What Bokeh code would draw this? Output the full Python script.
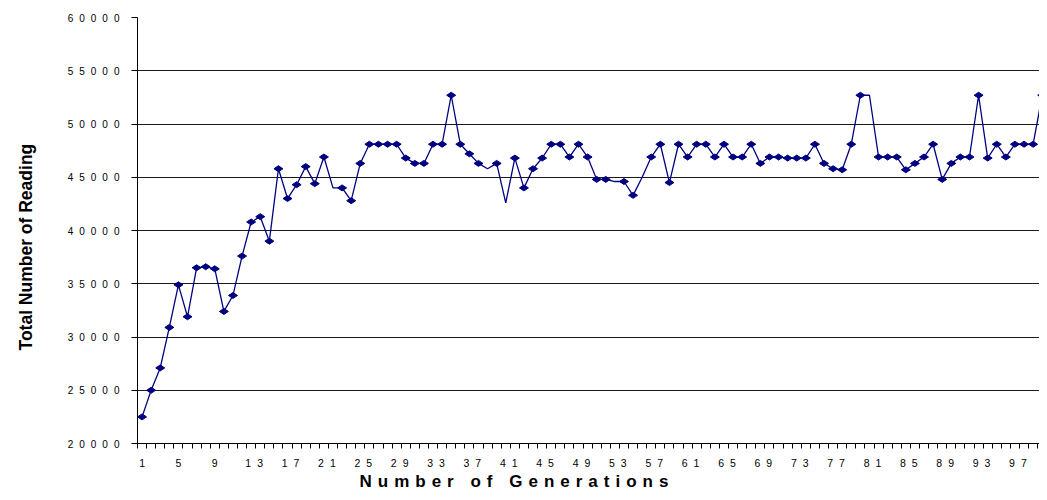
import math
from bokeh.plotting import figure
from bokeh.models import FixedTicker, Range1d, InlineStyleSheet, Title
from bokeh.layouts import row
from bokeh.embed import file_html
from bokeh.resources import INLINE

# ---------------- data ----------------
generations = list(range(1, 101))
readings = [
    22500, 25000, 27100, 30900, 34900, 31900, 36500, 36600, 36400, 32400,
    33900, 37600, 40800, 41300, 39000, 45800, 43000, 44300, 46000, 44400,
    46900, 44000, 44000, 42800, 46300, 48100, 48100, 48100, 48100, 46800,
    46300, 46300, 48100, 48100, 52700, 48100, 47200, 46300, 45800, 46300,
    42600, 46800, 44000, 45800, 46800, 48100, 48100, 46900, 48100, 46900,
    44800, 44800, 44600, 44600, 43300, 45000, 46900, 48100, 44500, 48100,
    46900, 48100, 48100, 46900, 48100, 46900, 46900, 48100, 46300, 46900,
    46900, 46800, 46800, 46800, 48100, 46300, 45800, 45700, 48100, 52700,
    52700, 46900, 46900, 46900, 45700, 46300, 46900, 48100, 44800, 46300,
    46900, 46900, 52700, 46800, 48100, 46900, 48100, 48100, 48100, 52700,
]
no_marker_generations = [22, 39, 41, 53, 56, 81]
x_tick_values = list(range(1, 98, 4))
y_tick_values = list(range(20000, 60001, 5000))
x_title = "Number of Generations"
y_title = "Total Number of Reading"

marker_x = [g for g in generations if g not in no_marker_generations]
marker_y = [v for g, v in zip(generations, readings) if g not in no_marker_generations]

H = 492
TOP = 17
BOTTOM = 49
YW = 60          # width of the strip holding the y title
LEFT_MAIN = 77   # so that the frame starts at x = 137
FRAME_W = 902

navy = "#000080"

# ---------------- main chart ----------------
p = figure(
    width=LEFT_MAIN + FRAME_W, height=H,
    x_range=Range1d(0.5, 99.7), y_range=Range1d(20000, 60000),
    output_backend="svg", toolbar_location=None,
    min_border_left=LEFT_MAIN, min_border_right=0,
    min_border_top=TOP, min_border_bottom=BOTTOM,
    stylesheets=[InlineStyleSheet(css=":host { letter-spacing: 6px; }")],
)
p.outline_line_color = None
p.background_fill_color = "white"
p.border_fill_color = "white"

p.line(generations, readings, line_color=navy, line_width=1.3)
p.scatter(marker_x, marker_y, marker="diamond", size=9, angle=math.pi / 2,
          fill_color=navy, line_color=navy)

# x axis
xt = FixedTicker(ticks=x_tick_values, minor_ticks=[i + 0.5 for i in range(0, 100)])
p.xaxis.ticker = xt
p.xaxis.axis_line_color = "black"
p.xaxis.major_tick_line_color = None
p.xaxis.major_tick_out = 5
p.xaxis.major_tick_in = 0
p.xaxis.minor_tick_line_color = "black"
p.xaxis.minor_tick_out = 5
p.xaxis.minor_tick_in = 0
p.xaxis.major_label_text_font = "Liberation Sans"
p.xaxis.major_label_text_font_size = "10.5px"
p.xaxis.major_label_text_color = "black"
p.xaxis.major_label_standoff = 10
p.xgrid.grid_line_color = None

# y axis
yt = FixedTicker(ticks=y_tick_values, minor_ticks=[])
p.yaxis.ticker = yt
p.ygrid.ticker = yt
p.yaxis.axis_line_color = "black"
p.yaxis.major_tick_line_color = "black"
p.yaxis.major_tick_out = 6
p.yaxis.major_tick_in = 0
p.yaxis.minor_tick_line_color = None
p.yaxis.major_label_text_font = "Liberation Sans"
p.yaxis.major_label_text_font_size = "10px"
p.yaxis.major_label_text_color = "black"
p.yaxis.major_label_standoff = 36
p.ygrid.grid_line_color = "#1a1a1a"
p.ygrid.grid_line_width = 1

# x title (spaced letters come from the inherited letter-spacing)
p.add_layout(Title(text=x_title, align="left", offset=222, vertical_align="bottom",
                   standoff=0, text_font="Liberation Sans", text_font_size="17px",
                   text_font_style="bold", text_color="black"), "below")

# ---------------- strip with the y title ----------------
yf = figure(
    width=YW, height=H, output_backend="svg", toolbar_location=None,
    x_range=Range1d(0, 1), y_range=Range1d(20000, 60000),
    min_border_left=0, min_border_right=0,
    min_border_top=TOP, min_border_bottom=BOTTOM,
)
yf.axis.visible = False
yf.grid.visible = False
yf.outline_line_color = None
yf.background_fill_color = "white"
yf.border_fill_color = "white"
yf.add_layout(Title(text=y_title, align="left", offset=93, vertical_align="middle",
                    standoff=28, text_font="Liberation Sans", text_font_size="17.5px",
                    text_font_style="bold", text_color="black"), "left")

layout = row(yf, p)
open("out.html", "w").write(file_html(layout, INLINE))
